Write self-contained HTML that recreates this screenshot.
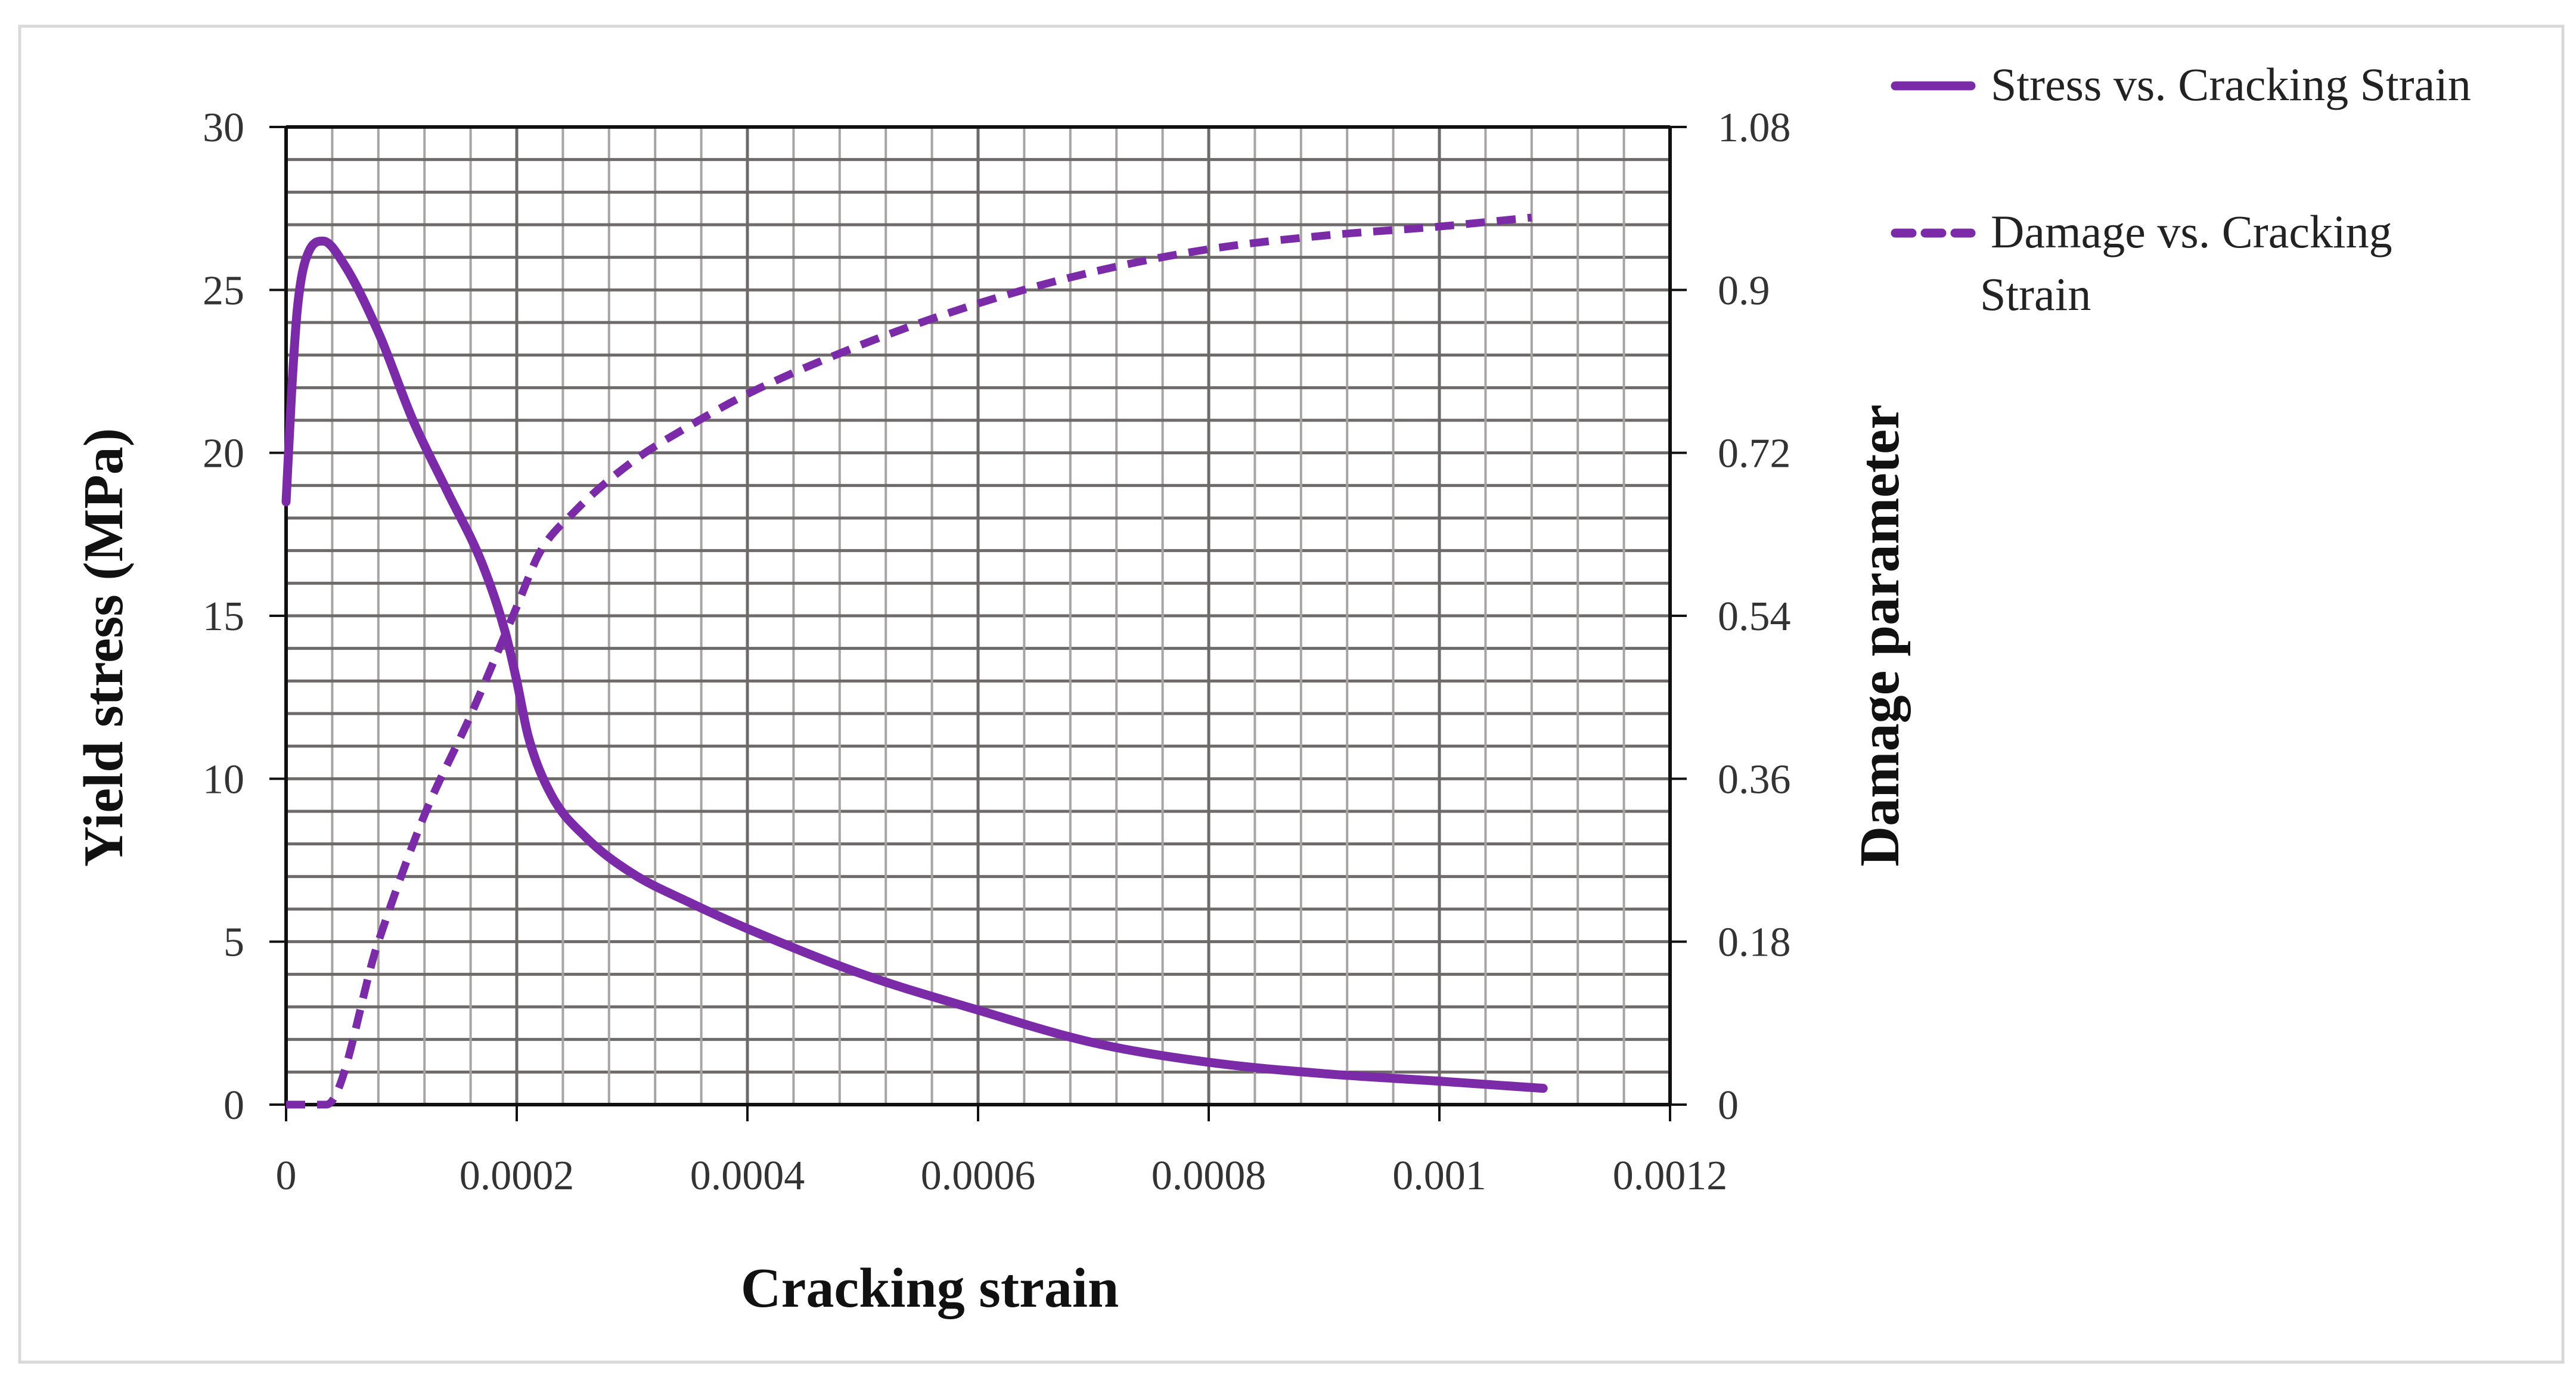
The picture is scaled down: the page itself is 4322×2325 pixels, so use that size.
<!DOCTYPE html>
<html><head><meta charset="utf-8"><style>
html,body{margin:0;padding:0;background:#fff}
svg{display:block}
text{font-family:"Liberation Serif",serif;fill:#333}
</style></head><body>
<svg id="chart" width="4322" height="2325" viewBox="0 0 4322 2325" xmlns="http://www.w3.org/2000/svg">
<rect x="33" y="44" width="4267" height="2241" fill="#fff" stroke="#d8d8d8" stroke-width="5"/>
<g id="grid"></g>
<g id="axes"></g>
<g id="series"></g>
<text transform="translate(205,1086) rotate(-90)" text-anchor="middle" font-size="94" font-weight="bold" style="fill:#111">Yield stress (MPa)</text>
<text transform="translate(3185,1066) rotate(-90)" text-anchor="middle" font-size="94" font-weight="bold" style="fill:#111">Damage parameter</text>
<text x="1560" y="2192" text-anchor="middle" font-size="94" font-weight="bold" style="fill:#111">Cracking strain</text>
<g>
<g>
<line x1="3180" y1="144" x2="3307" y2="144" stroke="#7b2aa8" stroke-width="15" stroke-linecap="round"/>
<text x="3340" y="168" font-size="78" style="fill:#222">Stress vs. Cracking Strain</text>
</g>
<g>
<line x1="3180" y1="391" x2="3307" y2="391" stroke="#7b2aa8" stroke-width="15" stroke-linecap="round" stroke-dasharray="28,22"/>
<text x="3340" y="415" font-size="78" style="fill:#222">Damage vs. Cracking</text>
<text x="3322" y="520" font-size="78" style="fill:#222">Strain</text>
</g>
</g>
</svg>
<script>
const xTicks=[0,0.0002,0.0004,0.0006,0.0008,0.001,0.0012];
const xTickLabels=["0","0.0002","0.0004","0.0006","0.0008","0.001","0.0012"];
const yTicks=[0,5,10,15,20,25,30];
const y2TickLabels=["0","0.18","0.36","0.54","0.72","0.9","1.08"];
const stressX=[0,0.000005,0.00001,0.00002,0.000032,0.00005,0.00008,0.00011,0.00014,0.00017,0.00019,0.0002,0.00021,0.00023,0.00026,0.0003,0.00035,0.0004,0.0005,0.0006,0.0007,0.0008,0.0009,0.001,0.00109];
const stressY=[18.5,22,24.5,26.2,26.5,25.8,23.7,21,18.8,16.6,14.5,13,11.3,9.5,8.2,7.1,6.2,5.4,4,2.9,1.9,1.3,0.95,0.72,0.5];
const damageX=[0,0.000035,0.00008,0.00012,0.00016,0.0002,0.00022,0.00025,0.0003,0.00035,0.0004,0.0005,0.0006,0.0007,0.0008,0.0009,0.001,0.00108];
const damageY=[0,0,0.18,0.32,0.43,0.55,0.61,0.655,0.71,0.75,0.785,0.84,0.885,0.92,0.945,0.96,0.97,0.98];

const X0=480,X1=2802,Y0=1853,Y1=213;
const xMax=0.0012,yMax=30,y2Max=1.08;
const sx=v=>X0+(X1-X0)*v/xMax;
const sy=v=>Y0-(Y0-Y1)*v/yMax;
const sy2=v=>Y0-(Y0-Y1)*v/y2Max;
const NS="http://www.w3.org/2000/svg";
function mk(tag,attrs,parent){const e=document.createElementNS(NS,tag);for(const k in attrs)e.setAttribute(k,attrs[k]);parent.appendChild(e);return e;}
const grid=document.getElementById('grid'),axes=document.getElementById('axes'),series=document.getElementById('series');
for(let i=1;i<30;i++){
  const vx=xMax*i/30, vy=yMax*i/30;
  const major=i%5===0;
  const l1=mk('line',{x1:sx(vx),x2:sx(vx),y1:Y1,y2:Y0,stroke:major?'#6e6a6a':'#a8a4a4','stroke-width':major?5:4},grid);
  
  
  const l2=mk('line',{x1:X0,x2:X1,y1:sy(vy),y2:sy(vy),stroke:'#6e6a6a','stroke-width':5},grid);
  
  
}
[[X0,Y0,X1,Y0],[X0,Y1,X1,Y1],[X0,Y1,X0,Y0],[X1,Y1,X1,Y0]].forEach(c=>{
  const a=mk('line',{x1:c[0],y1:c[1],x2:c[2],y2:c[3],stroke:'#111','stroke-width':6},axes);
  
  
});
xTicks.forEach((v,i)=>{
  const t=mk('line',{x1:sx(v),x2:sx(v),y1:Y0,y2:Y0+28,stroke:'#111','stroke-width':4},axes);
  
  
  const tx=mk('text',{x:sx(v),y:1995,'text-anchor':'middle','font-size':70},axes);
  tx.textContent=xTickLabels[i];
  
  
});
yTicks.forEach((v,i)=>{
  const t=mk('line',{x1:X0-28,x2:X0,y1:sy(v),y2:sy(v),stroke:'#111','stroke-width':4},axes);
  
  
  const t2=mk('line',{x1:X1,x2:X1+28,y1:sy(v),y2:sy(v),stroke:'#111','stroke-width':4},axes);
  
  
  const tx=mk('text',{x:410,y:sy(v)+24,'text-anchor':'end','font-size':70},axes);
  tx.textContent=String(v);
  
  
  const tx2=mk('text',{x:2882,y:sy(v)+24,'text-anchor':'start','font-size':70},axes);
  tx2.textContent=y2TickLabels[i];
  
  
});
function monotone(pts){
  const n=pts.length,d=[],m=[];
  for(let i=0;i<n-1;i++)d.push((pts[i+1][1]-pts[i][1])/(pts[i+1][0]-pts[i][0]));
  m[0]=d[0];m[n-1]=d[n-2];
  for(let i=1;i<n-1;i++){m[i]=(d[i-1]*d[i]<=0)?0:(d[i-1]+d[i])/2;}
  for(let i=0;i<n-1;i++){
    if(d[i]===0){m[i]=0;m[i+1]=0;continue;}
    const a=m[i]/d[i],b=m[i+1]/d[i],s=a*a+b*b;
    if(s>9){const t=3/Math.sqrt(s);m[i]=t*a*d[i];m[i+1]=t*b*d[i];}
  }
  let p='M'+pts[0][0]+','+pts[0][1];
  for(let i=0;i<n-1;i++){
    const h=(pts[i+1][0]-pts[i][0])/3;
    p+=' C'+(pts[i][0]+h)+','+(pts[i][1]+m[i]*h)+' '+(pts[i+1][0]-h)+','+(pts[i+1][1]-m[i+1]*h)+' '+pts[i+1][0]+','+pts[i+1][1];
  }
  return p;
}
const sp=stressX.map((v,i)=>[sx(v),sy(stressY[i])]);
const s=mk('path',{d:monotone(sp),fill:'none',stroke:'#7b2aa8','stroke-width':15,'stroke-linecap':'round','stroke-linejoin':'round'},series);


const dp=damageX.map((v,i)=>[sx(v),sy2(damageY[i])]);
const dd=mk('path',{d:monotone(dp),fill:'none',stroke:'#7b2aa8','stroke-width':13,'stroke-dasharray':'32,20'},series);


</script>
</body></html>
